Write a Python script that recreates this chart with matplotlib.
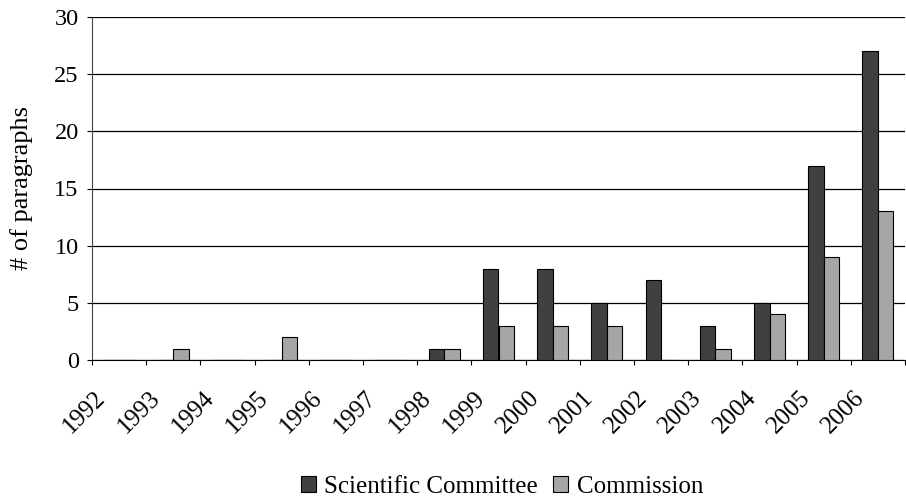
"""Bar chart of paragraphs per year, Scientific Committee vs Commission."""

import matplotlib

matplotlib.use("Agg")

import matplotlib.pyplot as plt
import matplotlib.transforms as mtransforms
import numpy as np

years = ["1992", "1993", "1994", "1995", "1996", "1997", "1998", "1999",
         "2000", "2001", "2002", "2003", "2004", "2005", "2006"]
scientific_committee = [0, 0, 0, 0, 0, 0, 1, 8, 8, 5, 7, 3, 5, 17, 27]
commission = [0, 1, 0, 2, 0, 0, 1, 3, 3, 3, 0, 1, 4, 9, 13]

plt.rcParams["font.family"] = ["Liberation Serif", "DejaVu Serif"]

fig = plt.figure(figsize=(9.06, 5.03), dpi=100)
ax = fig.add_axes([92 / 906, 1 - 360 / 503, 813 / 906, 343 / 503])

x = np.arange(len(years))
w = 1 / 3.5  # Excel gap width 150%
ax.bar(x - w / 2, scientific_committee, w, color="#404040", edgecolor="black",
       linewidth=0.8, label="Scientific Committee", zorder=3)
ax.bar(x + w / 2, commission, w, color="#a6a6a6", edgecolor="black",
       linewidth=0.8, label="Commission", zorder=3)

ax.set_xlim(-0.5, len(years) - 0.5)
ax.set_ylim(0, 30)
ax.set_yticks(range(0, 31, 5))
ax.yaxis.grid(True, color="black", linewidth=0.9, zorder=0)
ax.tick_params(axis="y", labelsize=17.5, direction="out", length=3.6, pad=6)

# ticks at category boundaries, labels at category centres
ax.set_xticks(np.arange(len(years) + 1) - 0.5)
ax.set_xticklabels([])
ax.tick_params(axis="x", direction="out", length=3.6)
ax.set_xticks(x, minor=True)
ax.set_xticklabels(years, minor=True, rotation=45, ha="right", va="center",
                   rotation_mode="anchor", fontsize=18)
ax.tick_params(axis="x", which="minor", length=0, pad=25)
shift = mtransforms.ScaledTranslation(-0.17, 0, fig.dpi_scale_trans)
for lbl in ax.get_xticklabels(minor=True):
    lbl.set_transform(lbl.get_transform() + shift)

for side in ("top", "right"):
    ax.spines[side].set_visible(False)
ax.spines["left"].set_color("#444444")
ax.spines["bottom"].set_color("black")

ax.set_ylabel("# of paragraphs", fontsize=19)
ax.yaxis.set_label_coords((33 - 92) / 813, 0.5)

fig.legend(loc="center", bbox_to_anchor=(502 / 906, 1 - 487 / 503), ncol=2,
           frameon=False, fontsize=18, handlelength=0.6, handleheight=0.6,
           handletextpad=0.35, columnspacing=0.6)

fig.savefig("out.png", dpi=100)
